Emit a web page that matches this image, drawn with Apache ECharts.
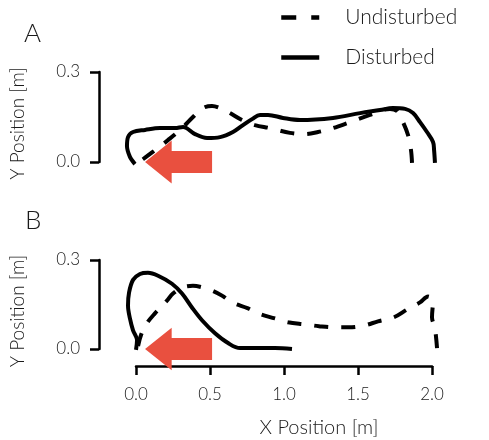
<!DOCTYPE html>
<html>
<head>
<meta charset="utf-8">
<script src="https://cdn.jsdelivr.net/npm/echarts@6/dist/echarts.min.js"></script>
<style>html,body{margin:0;padding:0;background:#fff}#c{width:489px;height:440px}</style>
</head>
<body>
<div id="c"></div>
<script>
// ---------- data ----------
const seriesNames = ['Undisturbed', 'Disturbed'];
const panelLabels = ['A', 'B'];
const yTicks = [0.0, 0.3];
const xTicks = [0.0, 0.5, 1.0, 1.5, 2.0];

// Panel A, undisturbed (x, y) in metres
const undisturbedA = [
  [1.865,-0.003],[1.858,0.04],[1.838,0.09],[1.804,0.133],[1.764,0.17],[1.716,0.177],
  [1.581,0.157],[1.446,0.133],[1.331,0.113],[1.23,0.10],[1.135,0.093],[1.04,0.097],
  [0.905,0.113],[0.804,0.123],[0.716,0.14],[0.635,0.163],[0.568,0.18],[0.514,0.187],
  [0.453,0.18],[0.385,0.15],[0.311,0.113],[0.216,0.073],[0.149,0.047],[0.068,0.017],[0.014,-0.003]
];
// Panel A, disturbed
const disturbedA = [
  [2.02,-0.003],[2.014,0.04],[2.007,0.067],[1.966,0.10],[1.919,0.133],[1.872,0.163],
  [1.818,0.177],[1.736,0.18],[1.649,0.173],[1.514,0.163],[1.331,0.147],[1.108,0.14],
  [0.993,0.147],[0.892,0.157],[0.838,0.157],[0.784,0.143],[0.723,0.123],[0.655,0.10],
  [0.568,0.083],[0.48,0.08],[0.399,0.093],[0.318,0.117],[0.264,0.113],[0.162,0.113],
  [0.061,0.107],[-0.02,0.10],[-0.054,0.083],[-0.061,0.053],[-0.041,0.017],[-0.007,-0.007]
];
// Panel B, undisturbed
const undisturbedB = [
  [2.034,0.003],[2.02,0.07],[2.0,0.107],[2.007,0.163],[1.973,0.177],[1.919,0.157],
  [1.831,0.133],[1.743,0.107],[1.635,0.093],[1.547,0.08],[1.439,0.073],[1.345,0.073],
  [1.236,0.077],[1.142,0.083],[1.027,0.09],[0.939,0.103],[0.824,0.12],[0.757,0.137],
  [0.649,0.157],[0.581,0.18],[0.514,0.197],[0.453,0.207],[0.385,0.213],[0.311,0.207],
  [0.25,0.187],[0.209,0.163],[0.128,0.12],[0.074,0.087],[0.034,0.047],[0.014,0.01]
];
// Panel B, disturbed
const disturbedB = [
  [1.054,0.0],[0.939,0.003],[0.804,0.003],[0.703,0.003],[0.622,0.02],[0.534,0.053],
  [0.446,0.097],[0.378,0.14],[0.311,0.187],[0.243,0.22],[0.149,0.247],[0.081,0.257],
  [0.027,0.253],[-0.02,0.233],[-0.047,0.19],[-0.054,0.147],[-0.041,0.103],[-0.02,0.063],
  [0.007,0.03],[0.0,-0.003]
];
// arrows: [tail x, tip x, y]
const arrowA = [[0.514, 0.061, 0.0]];
const arrowB = [[0.514, 0.061, 0.0]];

// ---------- chart ----------
const FONT = 'Lato';
const FW = 300;
const TXT = '#1a1a1a';
const chart = echarts.init(document.getElementById('c'), null, {renderer: 'canvas'});

// visible (trimmed-spine) grids
const X0 = 136, XW = 296;               // x: 0..2
const panels = [{top: 72, h: 90}, {top: 260, h: 89}]; // y: 0..0.3
const pxX = XW / 2;
// wider data grids sharing the same scale, so marks outside the tick range are drawn
const dX = [-0.15, 2.15], dY = [-0.05, 0.3];
const grids = panels.map(p => ({left: X0, width: XW, top: p.top, height: p.h}));
panels.forEach(p => {
  const pxY = p.h / 0.3;
  grids.push({
    left: X0 + dX[0] * pxX, width: (dX[1] - dX[0]) * pxX,
    top: p.top - (dY[1] - 0.3) * pxY, height: (dY[1] - dY[0]) * pxY
  });
});

function yAx(i) {
  return {
    type: 'value', gridIndex: i, min: yTicks[0], max: yTicks[1], interval: 0.3, offset: 37,
    name: 'Y Position [m]', nameLocation: 'middle', nameGap: 72,
    nameTextStyle: {fontFamily: FONT, fontWeight: FW, fontSize: 19, color: TXT, padding: [0, 13, 0, 0]},
    axisLine: {show: true, onZero: false, lineStyle: {color: '#000', width: 2.5}},
    axisTick: {show: true, length: 9, lineStyle: {color: '#000', width: 2.5}},
    axisLabel: {fontFamily: FONT, fontWeight: FW, fontSize: 17, color: TXT, margin: 19,
      formatter: v => v.toFixed(1)},
    splitLine: {show: false}
  };
}
function hiddenX(i) { return {type: 'value', gridIndex: i, min: dX[0], max: dX[1], show: false}; }
function hiddenY(i) { return {type: 'value', gridIndex: i, min: dY[0], max: dY[1], show: false}; }

const arrowRender = function (params, api) {
  const tail = api.value(0), tip = api.value(1), y = api.value(2);
  const headLen = 0.18, bodyHalf = 0.037, headHalf = 0.072;
  const p = (x, yy) => api.coord([x, yy]);
  const pts = [
    p(tip, y),
    p(tip + headLen, y + headHalf),
    p(tip + headLen, y + bodyHalf),
    p(tail, y + bodyHalf),
    p(tail, y - bodyHalf),
    p(tip + headLen, y - bodyHalf),
    p(tip + headLen, y - headHalf)
  ];
  return {type: 'polygon', shape: {points: pts}, style: {fill: '#E9503F'}};
};

const lineCommon = (name, data, idx) => ({
  name: name, type: 'line', xAxisIndex: idx, yAxisIndex: idx, data: data,
  symbol: 'none', smooth: 0.35, clip: false, z: 3,
  lineStyle: name === 'Undisturbed'
    ? {color: '#000', width: 4, type: [14, 13], cap: 'butt'}
    : {color: '#000', width: 4, type: 'solid'},
  itemStyle: {color: '#000'}
});

chart.setOption({
  animation: false,
  backgroundColor: '#fff',
  grid: grids,
  legend: {
    orient: 'vertical', left: 279, top: 7, padding: 0, itemGap: 19,
    itemWidth: 38, itemHeight: 14,
    data: [
      {name: seriesNames[0], lineStyle: {width: 4.5, type: [15, 15], cap: 'butt'}},
      {name: seriesNames[1], lineStyle: {width: 4.5, type: 'solid'}}
    ],
    itemStyle: {color: 'rgba(0,0,0,0)', borderWidth: 0, opacity: 0},
    lineStyle: {width: 4.5},
    textStyle: {fontFamily: FONT, fontWeight: FW, fontSize: 21, color: TXT, padding: [0, 0, 0, 21]}
  },
  graphic: [
    {type: 'text', left: 24, top: 21, style: {text: panelLabels[0], font: FW + ' 26px ' + FONT, fill: TXT}},
    {type: 'text', left: 25, top: 208, style: {text: panelLabels[1], font: FW + ' 26px ' + FONT, fill: TXT}}
  ],
  xAxis: [
    {type: 'value', gridIndex: 0, min: 0, max: 2, show: false},
    {type: 'value', gridIndex: 1, min: xTicks[0], max: xTicks[xTicks.length - 1], interval: 0.5, offset: 17,
      name: 'X Position [m]', nameLocation: 'middle', nameGap: 52,
      nameTextStyle: {fontFamily: FONT, fontWeight: FW, fontSize: 20, color: TXT, padding: [0, 0, 0, 70]},
      axisLine: {show: true, onZero: false, lineStyle: {color: '#000', width: 2.5}},
      axisTick: {show: true, length: 9, lineStyle: {color: '#000', width: 2.5}},
      axisLabel: {fontFamily: FONT, fontWeight: FW, fontSize: 17, color: TXT, margin: 20,
        formatter: v => v.toFixed(1)},
      splitLine: {show: false}},
    hiddenX(2), hiddenX(3)
  ],
  yAxis: [yAx(0), yAx(1), hiddenY(2), hiddenY(3)],
  series: [
    {type: 'custom', xAxisIndex: 0, yAxisIndex: 0, data: arrowA, renderItem: arrowRender,
      encode: {x: [0, 1], y: 2}, clip: false, z: 1, silent: true},
    {type: 'custom', xAxisIndex: 1, yAxisIndex: 1, data: arrowB, renderItem: arrowRender,
      encode: {x: [0, 1], y: 2}, clip: false, z: 1, silent: true},
    lineCommon(seriesNames[0], undisturbedA, 2),
    lineCommon(seriesNames[1], disturbedA, 2),
    lineCommon(seriesNames[0], undisturbedB, 3),
    lineCommon(seriesNames[1], disturbedB, 3)
  ]
});
</script>
</body>
</html>
